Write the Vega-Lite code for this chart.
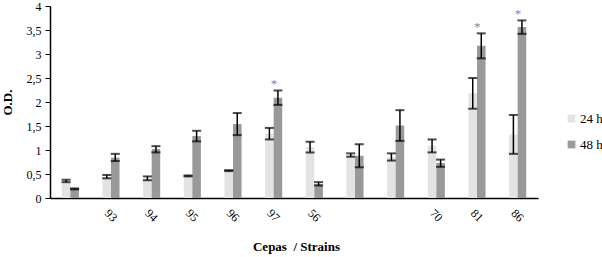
{
  "$schema": "https://vega.github.io/schema/vega-lite/v6.json",
  "width": 488,
  "height": 192,
  "autosize": "none",
  "padding": {"left": 50, "top": 6, "right": 64, "bottom": 59},
  "background": "white",
  "config": {
    "view": {"stroke": null},
    "font": "Liberation Serif, Times New Roman, serif",
    "text": {"font": "Liberation Serif, Times New Roman, serif"},
    "legend": {"labelFont": "Liberation Serif, Times New Roman, serif"},
    "axis": {"grid": false, "domainColor": "black", "tickColor": "black", "labelColor": "black", "titleColor": "black", "labelFont": "Liberation Serif, Times New Roman, serif", "titleFont": "Liberation Serif, Times New Roman, serif"}
  },
  "data": {"values": [
    {"strain": " ", "series": "24 h", "mean": 0.35, "lo": 0.33, "hi": 0.38, "star": ""},
    {"strain": " ", "series": "48 h", "mean": 0.19, "lo": 0.18, "hi": 0.20, "star": ""},
    {"strain": "93", "series": "24 h", "mean": 0.44, "lo": 0.41, "hi": 0.48, "star": ""},
    {"strain": "93", "series": "48 h", "mean": 0.84, "lo": 0.77, "hi": 0.92, "star": ""},
    {"strain": "94", "series": "24 h", "mean": 0.41, "lo": 0.37, "hi": 0.45, "star": ""},
    {"strain": "94", "series": "48 h", "mean": 1.02, "lo": 0.95, "hi": 1.08, "star": ""},
    {"strain": "95", "series": "24 h", "mean": 0.46, "lo": 0.45, "hi": 0.47, "star": ""},
    {"strain": "95", "series": "48 h", "mean": 1.29, "lo": 1.18, "hi": 1.40, "star": ""},
    {"strain": "96", "series": "24 h", "mean": 0.57, "lo": 0.56, "hi": 0.58, "star": ""},
    {"strain": "96", "series": "48 h", "mean": 1.54, "lo": 1.31, "hi": 1.77, "star": ""},
    {"strain": "97", "series": "24 h", "mean": 1.34, "lo": 1.22, "hi": 1.46, "star": ""},
    {"strain": "97", "series": "48 h", "mean": 2.09, "lo": 1.94, "hi": 2.24, "star": "*"},
    {"strain": "56", "series": "24 h", "mean": 1.06, "lo": 0.95, "hi": 1.17, "star": ""},
    {"strain": "56", "series": "48 h", "mean": 0.29, "lo": 0.26, "hi": 0.33, "star": ""},
    {"strain": "  ", "series": "24 h", "mean": 0.89, "lo": 0.86, "hi": 0.93, "star": ""},
    {"strain": "  ", "series": "48 h", "mean": 0.88, "lo": 0.64, "hi": 1.12, "star": ""},
    {"strain": "   ", "series": "24 h", "mean": 0.85, "lo": 0.78, "hi": 0.93, "star": ""},
    {"strain": "   ", "series": "48 h", "mean": 1.51, "lo": 1.19, "hi": 1.83, "star": ""},
    {"strain": "70", "series": "24 h", "mean": 1.09, "lo": 0.95, "hi": 1.22, "star": ""},
    {"strain": "70", "series": "48 h", "mean": 0.73, "lo": 0.65, "hi": 0.80, "star": ""},
    {"strain": "81", "series": "24 h", "mean": 2.18, "lo": 1.86, "hi": 2.50, "star": ""},
    {"strain": "81", "series": "48 h", "mean": 3.17, "lo": 2.91, "hi": 3.43, "star": "*"},
    {"strain": "86", "series": "24 h", "mean": 1.32, "lo": 0.92, "hi": 1.73, "star": ""},
    {"strain": "86", "series": "48 h", "mean": 3.56, "lo": 3.42, "hi": 3.70, "star": "*"}
  ]},
  "encoding": {
    "x": {
      "field": "strain", "type": "nominal",
      "scale": {"domain": [" ", "93", "94", "95", "96", "97", "56", "  ", "   ", "70", "81", "86"], "paddingInner": 0.58, "paddingOuter": 0.29},
      "axis": {"title": "Cepas\u00a0 / Strains", "titleFontWeight": "bold", "titleFontSize": 13, "titleY": 42, "titleX": 246, "ticks": false, "labelAngle": 45, "labelAlign": "center", "labelBaseline": "middle", "labelPadding": 17, "labelFontSize": 12, "domainWidth": 1.5}
    },
    "xOffset": {"field": "series", "type": "nominal", "scale": {"paddingInner": 0, "paddingOuter": 0}}
  },
  "layer": [
    {
      "mark": {"type": "bar"},
      "encoding": {
        "y": {"field": "mean", "type": "quantitative", "scale": {"domain": [0, 4]},
          "axis": {"title": "O.D.", "titleFontWeight": "bold", "titleFontSize": 13, "titlePadding": 12, "values": [0, 0.5, 1, 1.5, 2, 2.5, 3, 3.5, 4], "labelOverlap": false, "labelExpr": "replace(format(datum.value, '~g'), '.', ',')", "labelFontSize": 12, "tickSize": 5, "labelPadding": 4, "domainWidth": 1.5}},
        "color": {"field": "series", "type": "nominal",
          "scale": {"domain": ["24 h", "48 h"], "range": ["#e3e3e3", "#999999"]},
          "legend": {"title": null, "orient": "none", "legendX": 515, "legendY": 106, "symbolType": "square", "symbolSize": 60, "symbolStrokeWidth": 0, "labelFontSize": 13, "labelColor": "black", "rowPadding": 12, "labelOffset": 2}}
      }
    },
    {
      "mark": {"type": "rule", "color": "black", "strokeWidth": 1.5},
      "encoding": {"y": {"field": "lo", "type": "quantitative",
          "axis": {"title": "O.D.", "titleFontWeight": "bold", "titleFontSize": 13, "titlePadding": 12, "values": [0, 0.5, 1, 1.5, 2, 2.5, 3, 3.5, 4], "labelOverlap": false, "labelExpr": "replace(format(datum.value, '~g'), '.', ',')", "labelFontSize": 12, "tickSize": 5, "labelPadding": 4, "domainWidth": 1.5}}, "y2": {"field": "hi"}}
    },
    {
      "mark": {"type": "tick", "color": "black", "size": 9, "thickness": 2},
      "encoding": {"y": {"field": "lo", "type": "quantitative",
          "axis": {"title": "O.D.", "titleFontWeight": "bold", "titleFontSize": 13, "titlePadding": 12, "values": [0, 0.5, 1, 1.5, 2, 2.5, 3, 3.5, 4], "labelOverlap": false, "labelExpr": "replace(format(datum.value, '~g'), '.', ',')", "labelFontSize": 12, "tickSize": 5, "labelPadding": 4, "domainWidth": 1.5}}}
    },
    {
      "mark": {"type": "tick", "color": "black", "size": 9, "thickness": 2},
      "encoding": {"y": {"field": "hi", "type": "quantitative",
          "axis": {"title": "O.D.", "titleFontWeight": "bold", "titleFontSize": 13, "titlePadding": 12, "values": [0, 0.5, 1, 1.5, 2, 2.5, 3, 3.5, 4], "labelOverlap": false, "labelExpr": "replace(format(datum.value, '~g'), '.', ',')", "labelFontSize": 12, "tickSize": 5, "labelPadding": 4, "domainWidth": 1.5}}}
    },
    {
      "mark": {"type": "text", "color": "#7d889c", "fontSize": 13, "dy": -6, "dx": -4, "baseline": "middle"},
      "encoding": {"y": {"field": "hi", "type": "quantitative",
          "axis": {"title": "O.D.", "titleFontWeight": "bold", "titleFontSize": 13, "titlePadding": 12, "values": [0, 0.5, 1, 1.5, 2, 2.5, 3, 3.5, 4], "labelOverlap": false, "labelExpr": "replace(format(datum.value, '~g'), '.', ',')", "labelFontSize": 12, "tickSize": 5, "labelPadding": 4, "domainWidth": 1.5}}, "text": {"field": "star"}}
    }
  ]
}
